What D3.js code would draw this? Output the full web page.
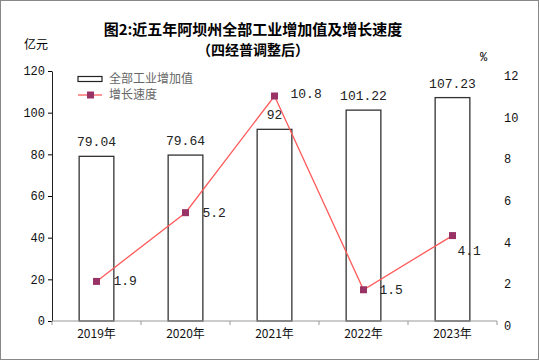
<html>
<head>
<meta charset="utf-8">
<style>
  body { margin: 0; background: #fff; }
  svg { display: block; }
  text { font-family: "Liberation Mono", "DejaVu Sans Mono", monospace; }
  .cjk { font-family: "Noto Sans CJK SC", sans-serif; }
</style>
</head>
<body>
<svg id="chart" width="539" height="361"></svg>
<script src="https://cdn.jsdelivr.net/npm/d3@7"></script>
<script>
  // chart data
  const years = ["2019年", "2020年", "2021年", "2022年", "2023年"]
  const addedValue = [79.04, 79.64, 92, 101.22, 107.23]
  const growthRate = [1.9, 5.2, 10.8, 1.5, 4.1]
  const leftTicks = [0, 20, 40, 60, 80, 100, 120]
  const rightTicks = [0, 2, 4, 6, 8, 10, 12]

  let svg = d3.select("#chart")

  // outer border
  svg.append("rect")
    .attr("x", 0.5).attr("y", 0.5)
    .attr("width", 538).attr("height", 359)
    .attr("fill", "#fff").attr("stroke", "#888")

  let plotLeft = 52, plotRight = 497, plotTop = 71, plotBottom = 321

  let x = d3.scaleBand().domain(years).range([plotLeft, plotRight])
  let yL = d3.scaleLinear().domain([0, 120]).range([plotBottom, plotTop])
  let yR = d3.scaleLinear().domain([0, 12]).range([plotBottom, plotTop])

  // title
  svg.append("text").attr("class", "cjk")
    .attr("x", 253).attr("y", 35)
    .attr("text-anchor", "middle")
    .attr("font-size", 15).attr("font-weight", "bold")
    .text("图2:近五年阿坝州全部工业增加值及增长速度")
  svg.append("text").attr("class", "cjk")
    .attr("x", 253).attr("y", 55)
    .attr("text-anchor", "middle")
    .attr("font-size", 14).attr("font-weight", "bold")
    .text("（四经普调整后）")

  svg.append("text").attr("class", "cjk")
    .attr("x", 24).attr("y", 49)
    .attr("font-size", 12)
    .text("亿元")
  svg.append("text")
    .attr("x", 480).attr("y", 61)
    .attr("font-size", 12)
    .text("%")

  // bars
  svg.selectAll(".bar")
    .data(addedValue)
    .enter().append("rect")
    .attr("class", "bar")
    .attr("x", (d, i) => x(years[i]) + x.bandwidth() * 0.305)
    .attr("width", x.bandwidth() * 0.39)
    .attr("y", d => yL(d))
    .attr("height", d => yL(0) - yL(d))
    .attr("fill", "#fff")
    .attr("stroke", "#333")
    .attr("stroke-width", 1.3)

  svg.selectAll(".barLabel")
    .data(addedValue)
    .enter().append("text")
    .attr("x", (d, i) => x(years[i]) + x.bandwidth() / 2)
    .attr("y", d => yL(d) - 10)
    .attr("text-anchor", "middle")
    .attr("font-size", 13)
    .attr("fill", "#222")
    .text(d => d)

  // left axis
  let axL = svg.append("g")
    .attr("transform", "translate(" + plotLeft + ",0)")
    .call(d3.axisLeft(yL).tickValues(leftTicks).tickSize(4).tickSizeOuter(0))
  axL.select(".domain").attr("stroke", "#222")
  axL.selectAll("text").attr("font-size", 12).attr("font-family", "Liberation Mono, monospace").attr("fill", "#111")

  // bottom axis
  let axB = svg.append("g")
    .attr("transform", "translate(0," + plotBottom + ")")
  axB.append("line")
    .attr("x1", plotLeft).attr("x2", plotRight)
    .attr("stroke", "#999")
  axB.selectAll(".tk")
    .data(years.concat([null]))
    .enter().append("line")
    .attr("x1", (d, i) => plotLeft + i * x.step())
    .attr("x2", (d, i) => plotLeft + i * x.step())
    .attr("y1", 0).attr("y2", 4)
    .attr("stroke", "#999")
  axB.selectAll(".yr")
    .data(years)
    .enter().append("text")
    .attr("class", "cjk")
    .attr("x", d => x(d) + x.bandwidth() / 2)
    .attr("y", 17)
    .attr("text-anchor", "middle")
    .attr("font-size", 12)
    .attr("fill", "#111")
    .text(d => d)

  // right axis labels (no line)
  svg.selectAll(".rt")
    .data(rightTicks)
    .enter().append("text")
    .attr("x", 504)
    .attr("y", d => yR(d) + 9)
    .attr("font-size", 12)
    .attr("fill", "#111")
    .text(d => d)

  // growth line
  let cx = (d, i) => x(years[i]) + x.bandwidth() / 2
  let line = d3.line().x(cx).y(d => yR(d))
  svg.append("path")
    .datum(growthRate)
    .attr("d", line)
    .attr("fill", "none")
    .attr("stroke", "#ff5a5a")
    .attr("stroke-width", 1.3)

  svg.selectAll(".pt")
    .data(growthRate)
    .enter().append("rect")
    .attr("x", (d, i) => cx(d, i) - 3.5)
    .attr("y", d => yR(d) - 3.5)
    .attr("width", 7).attr("height", 7)
    .attr("fill", "#993366")

  // point labels; last one sits below right
  let lblDx = [17, 17, 16, 16, 5]
  let lblDy = [4, 4, 2, 4, 19]
  svg.selectAll(".ptLabel")
    .data(growthRate)
    .enter().append("text")
    .attr("x", (d, i) => cx(d, i) + lblDx[i])
    .attr("y", (d, i) => yR(d) + lblDy[i])
    .attr("font-size", 13)
    .attr("fill", "#222")
    .text(d => d)

  // legend
  let lg = svg.append("g").attr("transform", "translate(78,79)")
  lg.append("rect")
    .attr("x", 0).attr("y", -2.5)
    .attr("width", 24).attr("height", 5)
    .attr("fill", "#fff").attr("stroke", "#222").attr("stroke-width", 1.2)
  lg.append("text").attr("class", "cjk")
    .attr("x", 31).attr("y", 4)
    .attr("font-size", 12).attr("fill", "#666")
    .text("全部工业增加值")
  lg.append("line")
    .attr("x1", 0).attr("x2", 24)
    .attr("y1", 16).attr("y2", 16)
    .attr("stroke", "#ff5a5a").attr("stroke-width", 1.3)
  lg.append("rect")
    .attr("x", 9).attr("y", 12.5)
    .attr("width", 7).attr("height", 7)
    .attr("fill", "#993366")
  lg.append("text").attr("class", "cjk")
    .attr("x", 31).attr("y", 20)
    .attr("font-size", 12).attr("fill", "#666")
    .text("增长速度")
</script>
</body>
</html>
